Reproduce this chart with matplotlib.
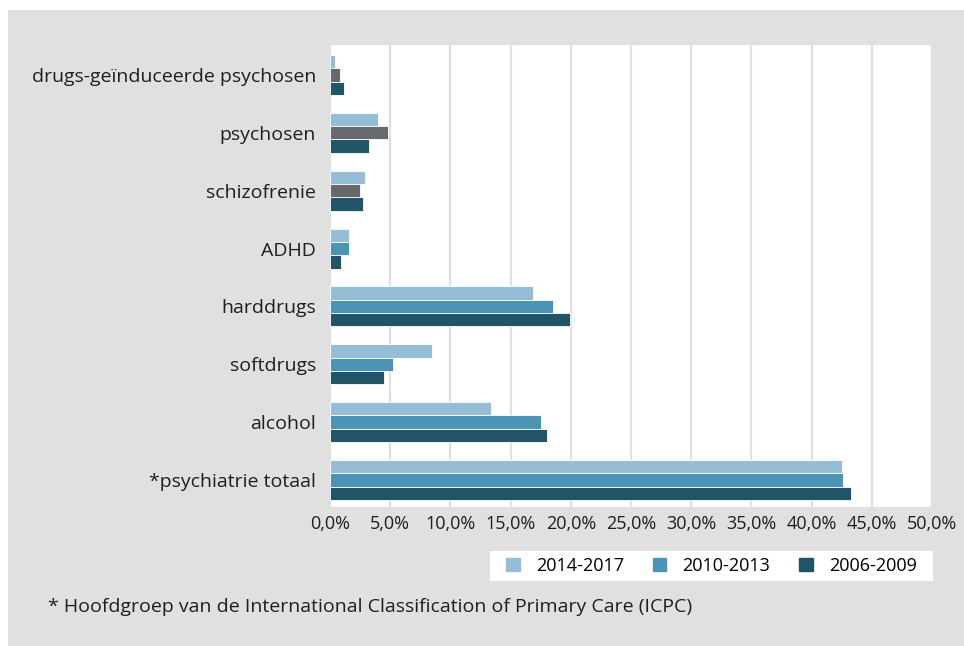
import matplotlib
matplotlib.use("Agg")
import matplotlib.pyplot as plt
from matplotlib.patches import Rectangle
import numpy as np

categories = ["drugs-geïnduceerde psychosen", "psychosen", "schizofrenie", "ADHD",
              "harddrugs", "softdrugs", "alcohol", "*psychiatrie totaal"]
series_names = ["2014-2017", "2010-2013", "2006-2009"]
v_2014_2017 = [0.4, 4.0, 2.9, 1.6, 16.9, 8.5, 13.4, 42.5]
v_2010_2013 = [0.8, 4.8, 2.5, 1.6, 18.5, 5.2, 17.5, 42.6]
v_2006_2009 = [1.2, 3.2, 2.7, 0.9, 19.9, 4.5, 18.0, 43.3]
xticks = [0, 5, 10, 15, 20, 25, 30, 35, 40, 45, 50]
footnote = "* Hoofdgroep van de International Classification of Primary Care (ICPC)"

c_light = "#96bdd6"
c_mid = "#4b94b6"
c_dark = "#225468"
c_grey = "#67696c"
bg = "#e0e0e0"

plt.rcParams['font.family'] = ['Open Sans', 'DejaVu Sans']

W, H = 964, 646
fig = plt.figure(figsize=(W/100, H/100), dpi=100)
fig.patch.set_facecolor("white")
fig.patches.append(Rectangle((8/W, 0), 1 - 8/W, 1 - 10/H, transform=fig.transFigure,
                             facecolor=bg, edgecolor="none", zorder=-10))

ax = fig.add_axes([330/W, 1 - 507/H, (932-330)/W, (507-45)/H])
ax.set_facecolor("white")

n = len(categories)
y = np.arange(n)
h = 0.23
mid_colors = [c_grey, c_grey, c_grey, c_mid, c_mid, c_mid, c_mid, c_mid]
ax.barh(y - h, v_2014_2017, height=h, color=c_light, edgecolor="white", linewidth=0.6, zorder=3)
ax.barh(y, v_2010_2013, height=h, color=mid_colors, edgecolor="white", linewidth=0.6, zorder=3)
ax.barh(y + h, v_2006_2009, height=h, color=c_dark, edgecolor="white", linewidth=0.6, zorder=3)

ax.set_ylim(n - 1 + 0.467, -0.518)
ax.set_xlim(0, 50)
ax.set_xticks(xticks)
ax.set_xticklabels([f"{t:.1f}%".replace(".", ",") for t in xticks], fontsize=13, color="#1e1e1e")
ax.set_yticks(y)
ax.set_yticklabels(categories, fontsize=14, color="#1e1e1e")
ax.tick_params(axis="both", length=0)
ax.tick_params(axis="x", pad=6)
ax.tick_params(axis="y", pad=10)
ax.grid(axis="x", color="#e0e0e0", linewidth=1.6, zorder=0)
for s in ax.spines.values():
    s.set_visible(False)

# legend
lax = fig.add_axes([490/W, 1 - 581/H, (933-490)/W, (581-551)/H])
lax.set_facecolor("white")
lax.set_xticks([]); lax.set_yticks([])
for s in lax.spines.values():
    s.set_visible(False)
handles = [Rectangle((0, 0), 1, 1, color=c) for c in (c_light, c_mid, c_dark)]
lax.legend(handles, series_names, loc="center", ncol=3, frameon=False, fontsize=13,
           handlelength=0.75, handleheight=0.75, columnspacing=1.6, handletextpad=0.9,
           borderaxespad=0)

fig.text(48/W, 1 - 607/H, footnote, fontsize=14, color="#1e1e1e", va="center", ha="left")

fig.savefig("out.png", dpi=100)
